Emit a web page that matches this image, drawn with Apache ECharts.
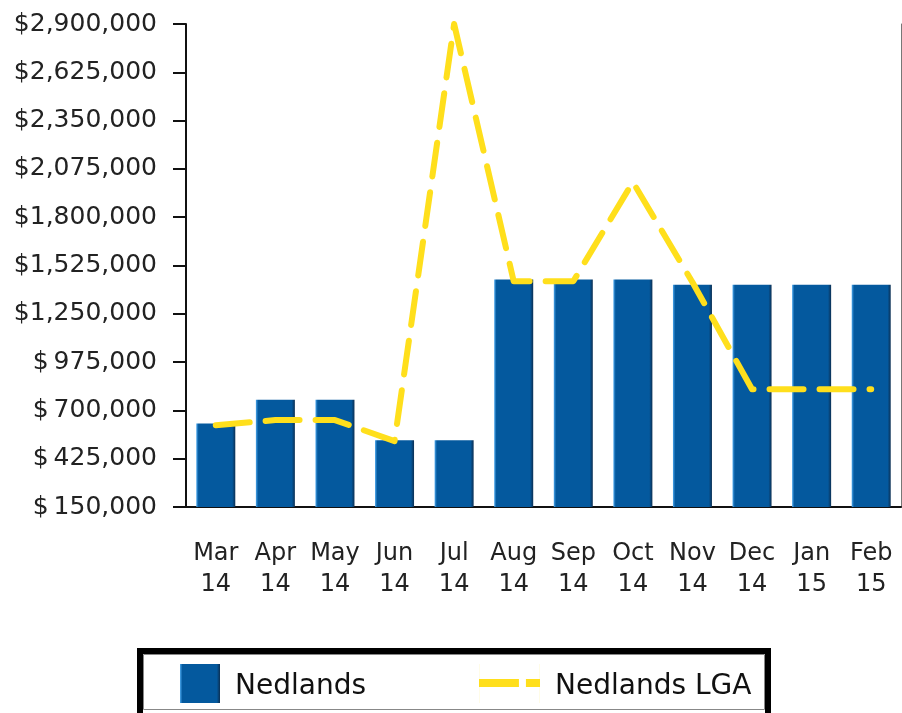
<!DOCTYPE html>
<html>
<head>
<meta charset="utf-8">
<script src="https://cdn.jsdelivr.net/npm/echarts@6/dist/echarts.min.js"></script>
<style>
  html, body { margin: 0; padding: 0; background: #fff; }
  #chart { width: 902px; height: 713px; }
</style>
</head>
<body>
<div id="chart"></div>
<script>
const months = ['Mar\n14', 'Apr\n14', 'May\n14', 'Jun\n14', 'Jul\n14', 'Aug\n14',
  'Sep\n14', 'Oct\n14', 'Nov\n14', 'Dec\n14', 'Jan\n15', 'Feb\n15']
const suburbValues = [625000, 760000, 760000, 530000, 530000, 1445000,
  1445000, 1445000, 1415000, 1415000, 1415000, 1415000]
const lgaValues = [615000, 645000, 645000, 525000, 2900000, 1435000,
  1435000, 2000000, 1430000, 820000, 820000, 820000]
const yMin = 150000
const yMax = 2900000
const yStep = 275000

const FONT = 'DejaVu Sans'
const YELLOW = '#ffdf1c'

function money(v) {
  const s = Math.round(v).toString().replace(/\B(?=(\d{3})+(?!\d))/g, ',')
  return v < 1000000 ? '$\u2009' + s : '$' + s
}

const legendText = {
  color: '#111',
  fontFamily: FONT,
  fontSize: 28,
  rich: { t: { fontFamily: FONT, fontSize: 28, color: '#111', padding: [6, 0, 0, 10] } },
}

const chart = echarts.init(document.getElementById('chart'), null, { renderer: 'canvas' })

chart.setOption({
  animation: false,
  grid: { left: 186, right: 1, top: 24, bottom: 206 },
  xAxis: {
    type: 'category',
    data: months,
    axisLine: { lineStyle: { color: '#111', width: 2 } },
    axisTick: { alignWithLabel: true, length: 14, lineStyle: { color: '#111', width: 2 } },
    axisLabel: {
      color: '#222', fontFamily: FONT, fontSize: 24, lineHeight: 31, margin: 31,
      interval: 0,
    },
  },
  yAxis: [
    {
      type: 'value',
      min: yMin,
      max: yMax,
      interval: yStep,
      axisLine: { show: true, lineStyle: { color: '#111', width: 2 } },
      axisTick: { show: true, length: 13, lineStyle: { color: '#111', width: 2 } },
      splitLine: { show: false },
      axisLabel: {
        color: '#222', fontFamily: FONT, fontSize: 25, margin: 29,
        formatter: money,
      },
    },
    {
      type: 'value',
      position: 'right',
      min: yMin,
      max: yMax,
      interval: yStep,
      axisLine: { show: true, lineStyle: { color: '#777', width: 1 } },
      axisTick: { show: false },
      axisLabel: { show: false },
      splitLine: { show: false },
    },
  ],
  legend: [
    {
      data: ['Nedlands'],
      left: 180,
      top: 664,
      padding: 0,
      itemWidth: 40,
      itemHeight: 39,
      icon: 'rect',
      formatter: '{t|{name}}',
      textStyle: legendText,
    },
    {
      data: ['Nedlands LGA'],
      left: 479,
      top: 664,
      padding: 0,
      itemWidth: 61,
      itemHeight: 39,
      icon: 'path://M0,0h0.1v39h-0.1z M0,15h40v8h-40z M47,15h14v8h-14z M61,0h0.1v39h-0.1z',
      itemStyle: { borderWidth: 0 },
      lineStyle: { width: 0 },
      formatter: '{t|{name}}',
      textStyle: legendText,
    },
  ],
  graphic: [
    {
      type: 'rect',
      z: -10,
      shape: { x: 140, y: 651, width: 628, height: 66 },
      style: { fill: '#fff', stroke: '#000', lineWidth: 6 },
    },
    {
      type: 'rect',
      z: -9,
      shape: { x: 143.5, y: 654.5, width: 621, height: 55 },
      style: { fill: 'none', stroke: '#888', lineWidth: 1 },
    },
  ],
  series: [
    {
      name: 'Nedlands',
      type: 'bar',
      data: suburbValues,
      barWidth: 39,
      itemStyle: {
        color: new echarts.graphic.LinearGradient(0, 0, 1, 0, [
          { offset: 0, color: '#4aa6ec' },
          { offset: 0.06, color: '#04599e' },
          { offset: 0.92, color: '#04599e' },
          { offset: 1, color: '#0c2f52' },
        ]),
      },
    },
    {
      name: 'Nedlands LGA',
      type: 'line',
      data: lgaValues,
      symbol: 'none',
      itemStyle: { color: YELLOW },
      lineStyle: { color: YELLOW, width: 6, type: [34, 16], cap: 'round', join: 'round' },
      z: 5,
    },
  ],
})
</script>
</body>
</html>
